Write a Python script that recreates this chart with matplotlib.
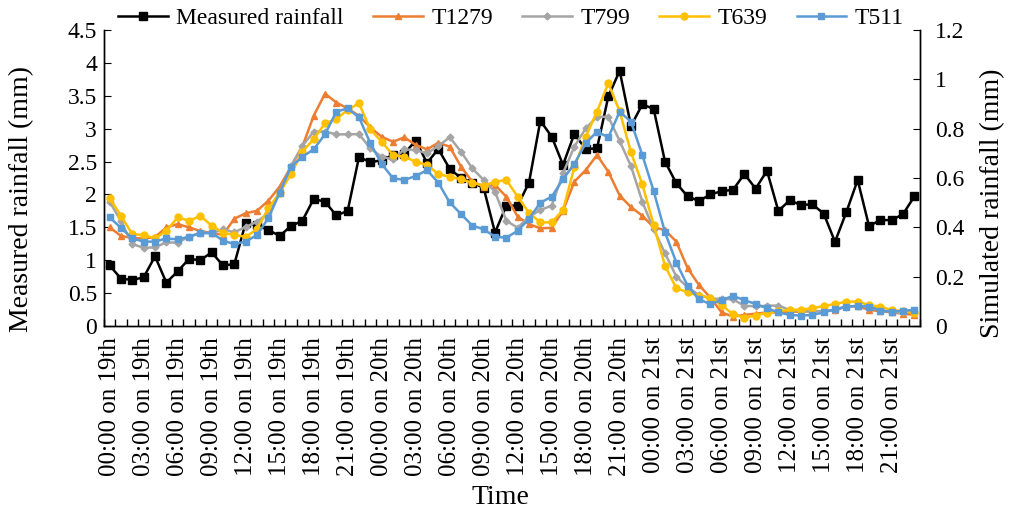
import numpy as np
import matplotlib
matplotlib.use("Agg")
import matplotlib.pyplot as plt
from matplotlib.ticker import FuncFormatter

plt.rcParams["font.family"] = ["Liberation Serif", "DejaVu Serif"]

# hourly values, 00:00 on 19th .. 23:00 on 21st
measured = [0.92, 0.72, 0.70, 0.74, 1.06, 0.66, 0.83, 1.02, 1.00, 1.12,
            0.92, 0.94, 1.57, 1.53, 1.46, 1.37, 1.52, 1.60, 1.93, 1.89,
            1.68, 1.75, 2.57, 2.49, 2.52, 2.60, 2.62, 2.82, 2.48, 2.69,
            2.39, 2.25, 2.18, 2.10, 1.42, 1.83, 1.83, 2.18, 3.12, 2.88,
            2.45, 2.92, 2.69, 2.70, 3.49, 3.88, 3.04, 3.37, 3.30, 2.50,
            2.17, 1.97, 1.90, 2.00, 2.05, 2.07, 2.31, 2.09, 2.36, 1.75,
            1.91, 1.84, 1.85, 1.71, 1.28, 1.73, 2.22, 1.52, 1.61, 1.61,
            1.70, 1.97]

t1279 = [0.400, 0.365, 0.357, 0.355, 0.360, 0.400, 0.413, 0.400, 0.385, 0.377,
         0.370, 0.435, 0.457, 0.467, 0.508, 0.565, 0.646, 0.727, 0.852, 0.942,
         0.906, 0.882, 0.852, 0.805, 0.767, 0.747, 0.765, 0.734, 0.716, 0.743,
         0.727, 0.646, 0.585, 0.565, 0.572, 0.524, 0.443, 0.413, 0.396, 0.398,
         0.467, 0.585, 0.632, 0.693, 0.625, 0.529, 0.482, 0.447, 0.400, 0.389,
         0.342, 0.234, 0.166, 0.115, 0.055, 0.038, 0.045, 0.050, 0.055, 0.055,
         0.058, 0.058, 0.060, 0.060, 0.065, 0.080, 0.080, 0.065, 0.060, 0.055,
         0.050, 0.045]

t799 = [0.504, 0.425, 0.332, 0.317, 0.319, 0.339, 0.338, 0.362, 0.378, 0.376,
        0.392, 0.380, 0.401, 0.423, 0.457, 0.544, 0.649, 0.730, 0.788, 0.788,
        0.777, 0.777, 0.778, 0.720, 0.686, 0.676, 0.716, 0.713, 0.700, 0.730,
        0.765, 0.707, 0.639, 0.592, 0.544, 0.427, 0.398, 0.443, 0.470, 0.488,
        0.619, 0.727, 0.801, 0.848, 0.848, 0.750, 0.648, 0.504, 0.392, 0.295,
        0.200, 0.157, 0.126, 0.112, 0.109, 0.108, 0.082, 0.080, 0.082, 0.083,
        0.065, 0.060, 0.060, 0.060, 0.065, 0.078, 0.080, 0.080, 0.067, 0.055,
        0.055, 0.060]

t639 = [0.518, 0.447, 0.372, 0.369, 0.355, 0.386, 0.440, 0.427, 0.446, 0.407,
        0.378, 0.369, 0.362, 0.392, 0.477, 0.540, 0.616, 0.707, 0.757, 0.822,
        0.839, 0.876, 0.903, 0.797, 0.747, 0.693, 0.686, 0.666, 0.653, 0.616,
        0.605, 0.595, 0.581, 0.569, 0.585, 0.592, 0.524, 0.459, 0.420, 0.420,
        0.470, 0.643, 0.767, 0.869, 0.984, 0.870, 0.704, 0.574, 0.410, 0.244,
        0.153, 0.137, 0.122, 0.115, 0.085, 0.047, 0.034, 0.042, 0.054, 0.060,
        0.066, 0.066, 0.072, 0.081, 0.089, 0.099, 0.099, 0.085, 0.078, 0.065,
        0.060, 0.054]

t511 = [0.440, 0.398, 0.355, 0.342, 0.342, 0.355, 0.351, 0.362, 0.376, 0.378,
        0.346, 0.332, 0.342, 0.369, 0.437, 0.540, 0.646, 0.686, 0.716, 0.777,
        0.869, 0.882, 0.846, 0.741, 0.657, 0.599, 0.592, 0.608, 0.632, 0.581,
        0.501, 0.454, 0.407, 0.392, 0.362, 0.358, 0.386, 0.434, 0.500, 0.524,
        0.595, 0.657, 0.741, 0.788, 0.765, 0.869, 0.828, 0.693, 0.547, 0.380,
        0.257, 0.163, 0.108, 0.089, 0.105, 0.122, 0.105, 0.089, 0.072, 0.055,
        0.045, 0.042, 0.045, 0.055, 0.068, 0.078, 0.082, 0.078, 0.062, 0.058,
        0.062, 0.065]

tick_labels = ["00:00 on 19th", "03:00 on 19th", "06:00 on 19th", "09:00 on 19th",
               "12:00 on 19th", "15:00 on 19th", "18:00 on 19th", "21:00 on 19th",
               "00:00 on 20th", "03:00 on 20th", "06:00 on 20th", "09:00 on 20th",
               "12:00 on 20th", "15:00 on 20th", "18:00 on 20th", "21:00 on 20th",
               "00:00 on 21st", "03:00 on 21st", "06:00 on 21st", "09:00 on 21st",
               "12:00 on 21st", "15:00 on 21st", "18:00 on 21st", "21:00 on 21st"]

x = np.arange(len(measured))

fig = plt.figure(figsize=(10.12, 5.08), dpi=100)
ax = fig.add_axes([104 / 1012, 1 - 326 / 508, (920 - 104) / 1012, (326 - 30) / 508])
ax2 = ax.twinx()

# MEASURED (left axis)
ax.plot(x, measured, color="black", lw=1.8, marker="s", ms=5.5, label="Measured rainfall")

# SIMULATED (right axis)
ax2.plot(x, t1279, color="#ED7D31", lw=1.8, marker="^", ms=5, label="T1279")
ax2.plot(x, t799, color="#A5A5A5", lw=1.8, marker="D", ms=3.5, label="T799")
ax2.plot(x, t639, color="#FFC000", lw=1.8, marker="o", ms=5, label="T639")
ax2.plot(x, t511, color="#5B9BD5", lw=1.8, marker="s", ms=5, label="T511")

ax.set_xlim(-0.5, len(x) - 0.5)
ax.set_ylim(0, 4.5)
ax2.set_ylim(0, 1.2)
ax.set_yticks(np.arange(0, 4.51, 0.5))
ax2.set_yticks(np.arange(0, 1.21, 0.2))
ax.yaxis.set_major_formatter(FuncFormatter(lambda v, p: "%g" % round(v, 2)))
ax2.yaxis.set_major_formatter(FuncFormatter(lambda v, p: "%g" % round(v, 2)))

# category boundaries as ticks, labels every 3 hours
ax.set_xticks(np.arange(-0.5, len(x), 1.0))
ax.set_xticklabels([])
ax.set_xticks(np.arange(0, len(x), 3), minor=True)
ax.set_xticklabels(tick_labels, minor=True, rotation=90, fontsize=18)
ax.tick_params(axis="x", which="minor", length=0, pad=8)
ax.tick_params(axis="x", which="major", direction="in", length=5, width=1)
ax.tick_params(axis="y", direction="in", length=5, labelsize=17, pad=5)
ax2.tick_params(axis="y", direction="in", length=5, labelsize=17, pad=11)

for a in (ax, ax2):
    a.spines["top"].set_visible(False)
    for s in ("left", "right", "bottom"):
        a.spines[s].set_linewidth(1.0)

ax.set_ylabel("Measured rainfall (mm)", fontsize=20, va="center")
ax.yaxis.set_label_coords((22 - 104) / 816, (326 - 199) / 296)
ax2.set_ylabel("Simulated rainfall (mm)", fontsize=20, rotation=90, va="center")
ax2.yaxis.set_label_coords((993 - 104) / 816, (326 - 203) / 296)
ax.set_xlabel("Time", fontsize=20, va="center")
ax.xaxis.set_label_coords((500 - 104) / 816, (326 - 497) / 296)

h1, l1 = ax.get_legend_handles_labels()
h2, l2 = ax2.get_legend_handles_labels()
fig.legend(h1 + h2, l1 + l2, loc="center", bbox_to_anchor=(511 / 1012, 1 - 18 / 508),
           ncol=5, frameon=False, fontsize=17, handlelength=2.1,
           columnspacing=1.25, handletextpad=0.35, borderaxespad=0, borderpad=0)

fig.savefig("out.png", dpi=100)
